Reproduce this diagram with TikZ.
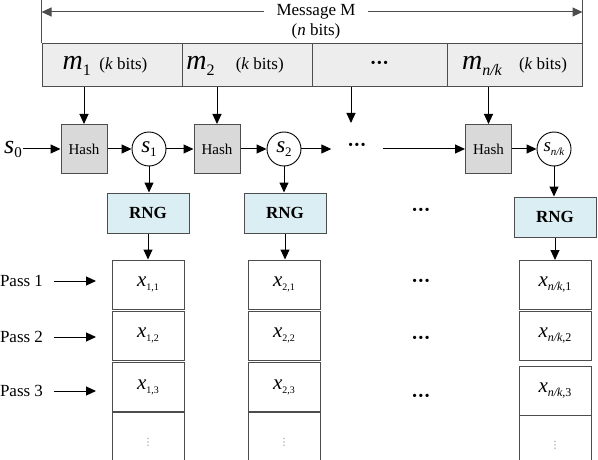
\documentclass[tikz,border=0pt]{standalone}
\usepackage{fontspec}
\setmainfont{Liberation Serif}
\newfontfamily\symfamily{DejaVu Sans}
\usepackage{xcolor}
\usepackage{tikz}
\usetikzlibrary{arrows.meta, positioning, calc}

\definecolor{bargray}{HTML}{EDEDED}
\definecolor{hashgray}{HTML}{D9D9D9}
\definecolor{rngblue}{HTML}{DBEEF4}
\definecolor{edgegray}{HTML}{4D4D4D}

\newcommand{\setfs}[1]{\fontsize{#1}{#1}\selectfont}
\newcommand{\mvar}[1]{{\setfs{28}\itshape m}\raisebox{-6pt}{\setfs{16}#1}}
\newcommand{\svar}[3]{{\setfs{#1}\itshape s}\raisebox{-4pt}{\setfs{#2}#3}}
\newcommand{\xvar}[2][10]{{\setfs{21}\itshape x}\raisebox{-4pt}{\setfs{#1}#2}}
\newcommand{\middots}{{\setfs{20}\bfseries\textperiodcentered\kern-0.5pt\textperiodcentered\kern-0.5pt\textperiodcentered}}
\newcommand{\smallvdots}{{\color{black!45}\symfamily\setfs{10}⋮}}

\begin{document}
\begin{tikzpicture}[x=1pt, y=-1pt,
        cell/.style={rectangle, draw=edgegray, line width=1pt, fill=bargray, inner sep=0pt, minimum height=43pt},
        hashbox/.style={rectangle, draw=edgegray, line width=1pt, fill=hashgray, minimum width=46pt, minimum height=49pt, inner sep=0pt, font=\setfs{15}},
        seed/.style={circle, draw=black, line width=0.9pt, minimum size=34pt, inner sep=0pt},
        rng/.style={rectangle, draw=edgegray, line width=1pt, fill=rngblue, minimum width=82pt, minimum height=40pt, font=\setfs{17}\bfseries},
        outbox/.style={rectangle, draw=edgegray, line width=1pt, minimum width=72pt, minimum height=49pt, inner sep=0pt},
        lbl/.style={font=\setfs{17}, inner sep=0pt},
        imp/.style={-{Triangle[length=10pt, width=9pt]}, line width=1pt},
        edge/.style={draw=edgegray, line width=0.9pt},
    ]
        \useasboundingbox (0,0) rectangle (598,460);

        % message blocks
        \node[cell, minimum width=140pt, label={[lbl, xshift=-7pt]center:\mvar{1}\enspace(\textit{k} bits)}] (m1) at (112,65.5) {};
        \node[cell, minimum width=130pt, label={[lbl, xshift=-12pt]center:\mvar{2}\quad\ (\textit{k} bits)}] (m2) at (247,65.5) {};
        \node[cell, minimum width=135pt, label={[lbl]center:\middots}] (md) at (379.5,65.5) {};
        \node[cell, minimum width=135pt, label={[lbl]center:\mvar{\textit{n/k}}\quad(\textit{k} bits)}] (mnk) at (514.5,65.5) {};

        % total length
        \node[lbl, inner xsep=12pt] (msg) at (316,12) {Message M};
        \node[lbl, below=4pt of msg] (nbits) {(\textit{n} bits)};
        \draw[edge] (m1.north west) -- ++(0,-44);
        \draw[edge] (mnk.north east) -- ++(0,-44);
        \draw[imp, edgegray] (msg.west) -- (m1.north west |- msg.west);
        \draw[imp, edgegray] (msg.east) -- (mnk.north east |- msg.east);

        % hash chain
        \node[lbl, inner sep=1pt] (s0) at (13,149) {\svar{26}{15}{0}};
        \node[hashbox] (h1) at (84,149) {Hash};
        \node[seed] (s1) at (149,149) {\svar{23}{13}{1}};
        \node[hashbox] (h2) at (217,149) {Hash};
        \node[seed] (s2) at (284,149) {\svar{23}{13}{2}};
        \node[lbl, inner xsep=16pt] (hd) at (357,147) {\middots};
        \node[hashbox] (h3) at (488.5,149) {Hash};
        \node[seed] (snk) at (554,149) {\svar{19}{11}{\textit{n/k}}};
        \coordinate (dtop) at (351,123);

        \draw[imp] (h1 |- m1.south) -- (h1);
        \draw[imp] (h2 |- m2.south) -- (h2);
        \draw[imp] (dtop |- md.south) -- (dtop);
        \draw[imp] (h3 |- mnk.south) -- (h3);
        \draw[imp] (s0.east) -- (s0.east -| h1.west);
        \draw[imp] (h1) -- (s1);
        \draw[imp] (s1) -- (h2);
        \draw[imp] (h2) -- (s2);
        \draw[imp] (s2) -- (hd.west |- s2);
        \draw[imp] (hd.east |- h3) -- (h3);
        \draw[imp] (h3) -- (snk);

        % generators
        \node[rng] (r1) at (148,213) {RNG};
        \node[rng] (r2) at (285,213) {RNG};
        \node[lbl] (rd) at (421,212) {\middots};
        \node[rng] (r3) at (555,217) {RNG};
        \draw[imp] (s1) -- (s1 |- r1.north);
        \draw[imp] (s2) -- (s2 |- r2.north);
        \draw[imp] (snk) -- (snk |- r3.north);

        % output columns
        \node[outbox] (x11) at (148,284.5) {\xvar{1,1}};
        \node[outbox] (x12) at (148,335.5) {\xvar{1,2}};
        \node[outbox] (x13) at (148,387) {\xvar{1,3}};
        \node[outbox, minimum height=60pt] (x14) at (148,442) {\smallvdots};
        \node[outbox] (x21) at (284,284.5) {\xvar{2,1}};
        \node[outbox] (x22) at (284,335.5) {\xvar{2,2}};
        \node[outbox] (x23) at (284,387) {\xvar{2,3}};
        \node[outbox, minimum height=60pt] (x24) at (284,442) {\smallvdots};
        \node[outbox] (x31) at (555,285) {\xvar[12]{\textit{n/k},1}};
        \node[outbox] (x32) at (555,336) {\xvar[12]{\textit{n/k},2}};
        \node[outbox] (x33) at (555,391) {\xvar[12]{\textit{n/k},3}};
        \node[outbox, minimum height=60pt] (x34) at (555,445) {\smallvdots};
        \draw[imp] (r1) -- (r1 |- x11.north);
        \draw[imp] (r2) -- (r2 |- x21.north);
        \draw[imp] (r3) -- (r3 |- x31.north);

        \node[lbl] (od1) at (421,283) {\middots};
        \node[lbl] (od2) at (421,340) {\middots};
        \node[lbl] (od3) at (421,398) {\middots};

        % passes
        \coordinate (pend) at (96,0);
        \node[lbl] (p1) at (21.5,281) {Pass 1};
        \node[lbl] (p2) at (21.5,337) {Pass 2};
        \node[lbl] (p3) at (21.5,391) {Pass 3};
        \draw[imp, shorten <=11pt] (p1.east) -- (p1.east -| pend);
        \draw[imp, shorten <=11pt] (p2.east) -- (p2.east -| pend);
        \draw[imp, shorten <=11pt] (p3.east) -- (p3.east -| pend);
    \end{tikzpicture}
\end{document}
